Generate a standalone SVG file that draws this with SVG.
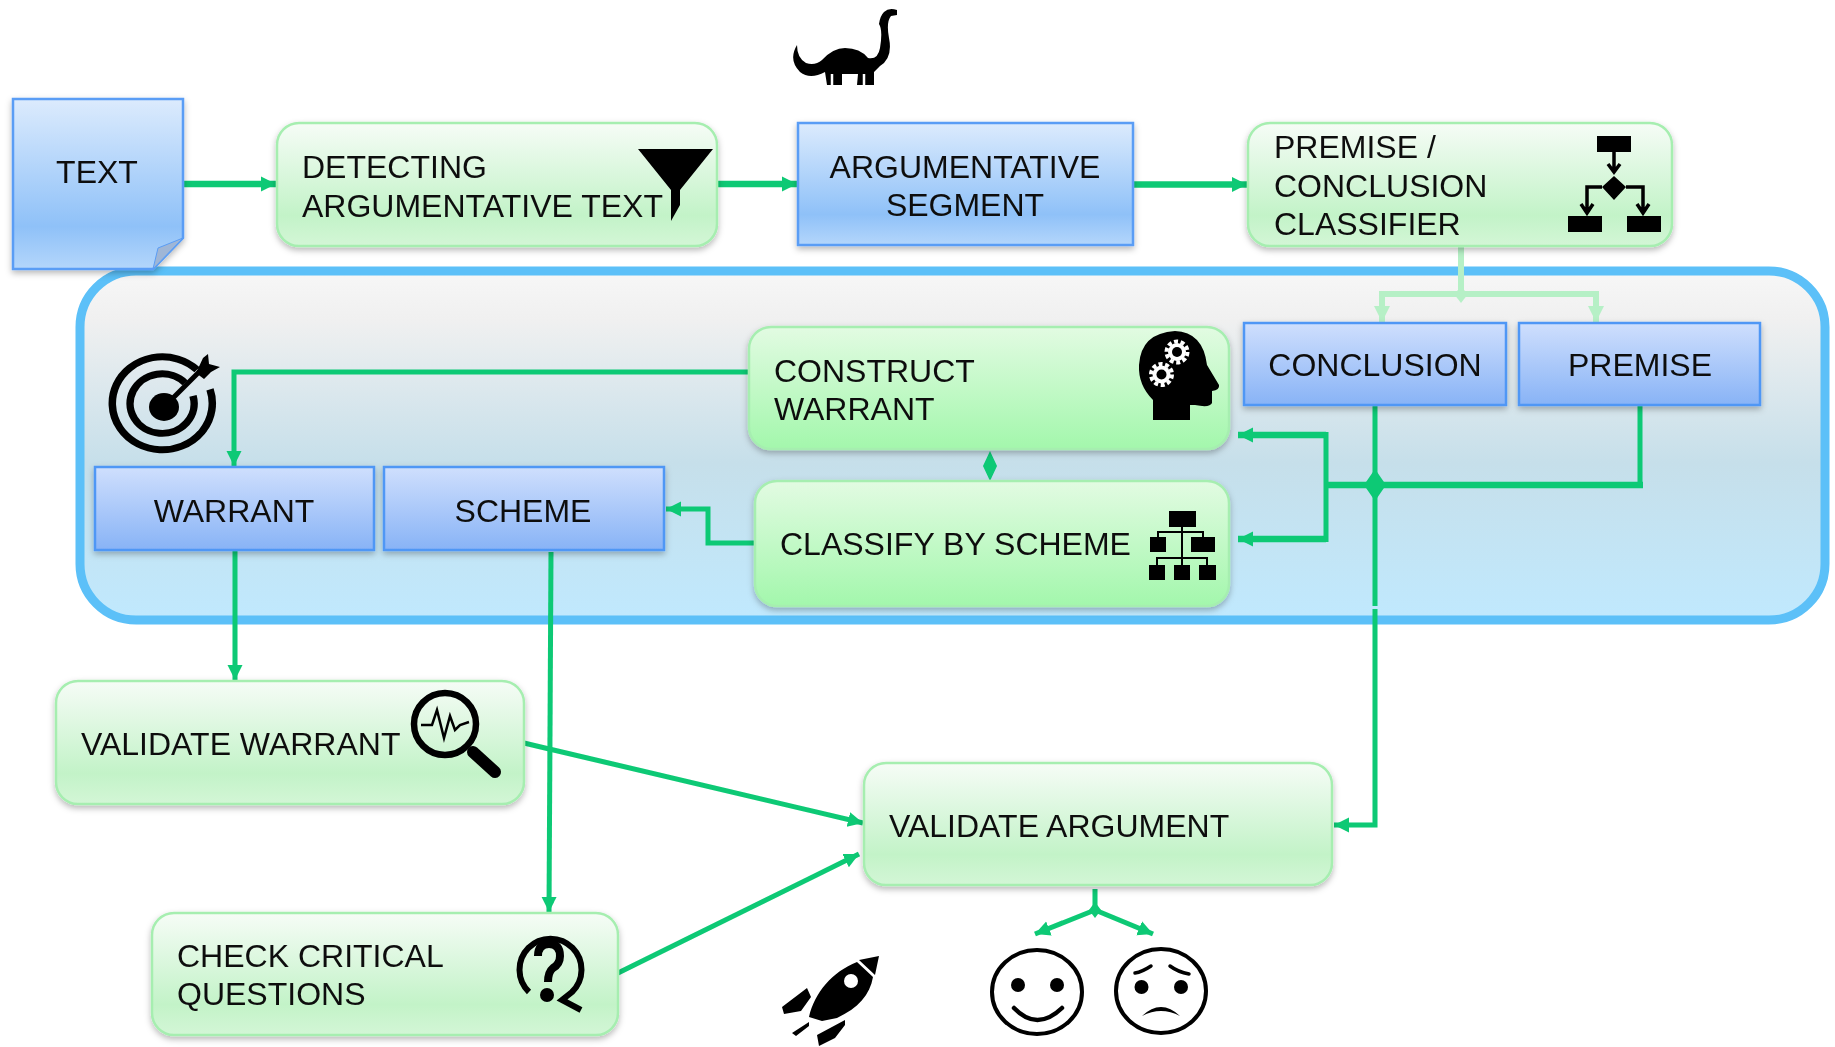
<svg xmlns="http://www.w3.org/2000/svg" width="1835" height="1047" viewBox="0 0 1835 1047">
<style>
text{font-family:"Liberation Sans",Arial,sans-serif;font-size:32px;fill:#111}
.mid{text-anchor:middle}
.g1{fill:url(#green1);stroke:#a6eeb0;stroke-width:2.5;filter:url(#sh)}
.g2{fill:url(#green2);stroke:#a6eeb0;stroke-width:2.5;filter:url(#sh)}
.b1{fill:url(#blue1);stroke:#5a9df5;stroke-width:2.5;filter:url(#sh)}
.b2{fill:url(#blue2);stroke:#4f97f5;stroke-width:2.5;filter:url(#sh)}
.c{fill:none;stroke:#0bc974;stroke-width:5}
.t{stroke-width:6.5}
.p{fill:none;stroke:#b6f0c6;stroke-width:6}
.k{fill:#000;stroke:none}
.o{fill:none;stroke:#000}
</style>
<defs>
<linearGradient id="green1" x1="0" y1="0" x2="0" y2="1"><stop offset="0" stop-color="#f6fcf6"/><stop offset=".75" stop-color="#c3f3c8"/><stop offset="1" stop-color="#d3f6d6"/></linearGradient>
<linearGradient id="green2" x1="0" y1="0" x2="0" y2="1"><stop offset="0" stop-color="#e2fbe2"/><stop offset="1" stop-color="#a3f7ac"/></linearGradient>
<linearGradient id="blue1" x1="0" y1="0" x2="0" y2="1"><stop offset="0" stop-color="#dcebfd"/><stop offset=".75" stop-color="#8fc1f8"/><stop offset="1" stop-color="#b4d6fb"/></linearGradient>
<linearGradient id="blue2" x1="0" y1="0" x2="0" y2="1"><stop offset="0" stop-color="#cfdffd"/><stop offset="1" stop-color="#88b3f6"/></linearGradient>
<linearGradient id="cont" x1="0" y1="0" x2="0" y2="1"><stop offset="0" stop-color="#f7f7f7"/><stop offset=".14" stop-color="#f0f0f0"/><stop offset=".55" stop-color="#c6dfea"/><stop offset="1" stop-color="#c0e9fe"/></linearGradient>
<filter id="sh" x="-5%" y="-10%" width="110%" height="125%"><feDropShadow dx="0" dy="3" stdDeviation="3" flood-color="#000" flood-opacity=".28"/></filter>
<filter id="soft" filterUnits="userSpaceOnUse" x="0" y="0" width="1835" height="1047"><feGaussianBlur stdDeviation=".6"/></filter>
<marker id="a" viewBox="0 0 10 10" refX="10" refY="5" markerWidth="15" markerHeight="19" markerUnits="userSpaceOnUse" orient="auto"><path d="M0 0L10 5L0 10Z" fill="#0bc974"/></marker>
<marker id="ap" viewBox="0 0 10 10" refX="10" refY="5" markerWidth="22" markerHeight="16" markerUnits="userSpaceOnUse" orient="auto"><path d="M0 0L10 5L0 10Z" fill="#b6f0c6"/></marker>
</defs>
<g filter="url(#soft)">
<rect id="container" x="80" y="271" width="1745" height="349" rx="56" fill="url(#cont)" stroke="#5bc0f8" stroke-width="9"/>

<g id="connectors">
<path class="c t" d="M183 184H276" marker-end="url(#a)"/>
<path class="c t" d="M717 184H797" marker-end="url(#a)"/>
<path class="c t" d="M1133 184.500H1247" marker-end="url(#a)"/>
<path class="p" d="M1461 246V294M1461 294H1382V322" marker-end="url(#ap)"/>
<path class="p" d="M1461 294H1596V322" marker-end="url(#ap)"/>
<path d="M1461 287L1468 294L1461 303L1454 294Z" fill="#b6f0c6"/>
<path class="c" d="M1375 405V606M1375 609V825H1334" marker-end="url(#a)"/>
<path class="c" d="M1640 405V485"/>
<path class="c t" d="M1643 485H1326"/>
<path class="c t" d="M1326 435H1238" marker-end="url(#a)"/>
<path class="c" d="M1326 432V542"/>
<path class="c t" d="M1326 539H1238" marker-end="url(#a)"/>
<path d="M1375 469L1386 485L1375 501L1364 485Z" fill="#0bc974"/>
<path d="M990 451L997 466L990 481L983 466Z" fill="#0bc974"/>
<path class="c" d="M749 372H234V466" marker-end="url(#a)"/>
<path class="c" d="M755 543H708V509H666" marker-end="url(#a)"/>
<path class="c" d="M235 550V680" marker-end="url(#a)"/>
<path class="c" d="M551 552L549 912" marker-end="url(#a)"/>
<path class="c" d="M524 743L863 823" marker-end="url(#a)"/>
<path class="c" d="M618 973L859 854" marker-end="url(#a)"/>
<path class="c" d="M1095 889V910M1095 910L1035 934" marker-end="url(#a)"/>
<path class="c" d="M1095 910L1153 934" marker-end="url(#a)"/>
<path d="M1095 902L1101 910L1095 918L1089 910Z" fill="#0bc974"/>
</g>

<g id="text-node">
<path class="b1" d="M13 99H183V238L153 269H13Z"/>
<path d="M183 238L158 248L153 269Z" fill="#9fb6d6" stroke="#5a9df5"/>
<text class="mid" x="97" y="183">TEXT</text>
</g>

<g id="detecting">
<rect class="g1" x="277" y="123" width="440" height="123" rx="22"/>
<text x="302" y="178">DETECTING</text>
<text x="302" y="217">ARGUMENTATIVE TEXT</text>
<path class="k" d="M638 149H713L680 190V205L671 221V190Z"/>
</g>

<g id="segment">
<rect class="b1" x="798" y="123" width="335" height="122"/>
<text class="mid" x="965" y="178">ARGUMENTATIVE</text>
<text class="mid" x="965" y="216">SEGMENT</text>
</g>

<g id="classifier">
<rect class="g1" x="1248" y="123" width="424" height="123" rx="22"/>
<text x="1274" y="158">PREMISE /</text>
<text x="1274" y="197">CONCLUSION</text>
<text x="1274" y="235">CLASSIFIER</text>
<path class="k" d="M1597 136H1631V152H1597ZM1568 216H1602V232H1568ZM1627 216H1661V232H1627ZM1614 176L1626 187L1614 200L1602 187Z"/>
<path class="o" stroke-width="3.500" d="M1614 152V170M1608 164L1614 172L1620 164M1602 187H1587V210M1581 204L1587 213L1593 204M1626 187H1643V210M1637 204L1643 213L1649 204"/>
</g>

<g id="conclusion">
<rect class="b2" x="1244" y="323" width="262" height="82"/>
<text class="mid" x="1375" y="376">CONCLUSION</text>
</g>

<g id="premise">
<rect class="b2" x="1519" y="323" width="241" height="82"/>
<text class="mid" x="1640" y="376">PREMISE</text>
</g>

<g id="construct">
<rect class="g2" x="749" y="327" width="480" height="122" rx="22"/>
<text x="774" y="382">CONSTRUCT</text>
<text x="774" y="420">WARRANT</text>
<path class="k" d="M1153 420V400Q1138 385 1139 365Q1141 333 1175 331Q1203 332 1207 365L1219 385Q1220 390 1212 391V403Q1210 408 1195 405H1190V420Z"/>
<g fill="#fff"><circle cx="1177" cy="352" r="9"/><circle cx="1177" cy="352" r="10.500" fill="none" stroke="#fff" stroke-width="4" stroke-dasharray="4 2.600"/><circle cx="1161.500" cy="374.500" r="9"/><circle cx="1161.500" cy="374.500" r="10.500" fill="none" stroke="#fff" stroke-width="4" stroke-dasharray="4 2.600"/></g>
<circle class="k" cx="1177" cy="352" r="5"/><circle class="k" cx="1161.500" cy="374.500" r="5"/>
</g>

<g id="classify">
<rect class="g2" x="755" y="481" width="474" height="125" rx="22"/>
<text x="780" y="555">CLASSIFY BY SCHEME</text>
<path class="k" d="M1169 511H1196V527H1169ZM1150 537H1166V552H1150ZM1191 537H1215V552H1191ZM1149 565H1165V580H1149ZM1174 565H1190V580H1174ZM1199 565H1216V580H1199Z"/>
<path class="o" stroke-width="2" d="M1182 527V533M1158 537V532H1203V537M1182 533V558M1157 565V558H1207V565M1182 558V565"/>
</g>

<g id="warrant">
<rect class="b2" x="95" y="467" width="279" height="83"/>
<text class="mid" x="234" y="522">WARRANT</text>
</g>

<g id="scheme">
<rect class="b2" x="384" y="467" width="280" height="83"/>
<text class="mid" x="523" y="522">SCHEME</text>
</g>

<g id="target-icon">
<g transform="translate(164 407) scale(1 .93) translate(-164 -407)">
<path class="o" stroke-width="7.500" d="M197 367A50 50 0 1 0 210 388"/>
<path class="o" stroke-width="7.500" d="M185 381A32 32 0 1 0 193 395"/>
<circle class="k" cx="164" cy="407" r="15"/>
</g>
<path class="o" stroke-width="5" d="M164 407L204 367"/>
<path class="k" d="M196 373L203 358L208 354L209 364L220 367L211 372L204 379Z"/>
</g>

<g id="validate-warrant">
<rect class="g1" x="56" y="681" width="468" height="123" rx="22"/>
<text x="81" y="755">VALIDATE WARRANT</text>
<circle class="o" cx="445" cy="724" r="31" stroke-width="6.500"/>
<path class="o" stroke-width="12" stroke-linecap="round" d="M473 752L495 772"/>
<path class="o" stroke-width="2.500" d="M421 725H432L437 710L444 738L450 716L455 730L460 725L469 722"/>
</g>

<g id="check">
<rect class="g1" x="152" y="913" width="466" height="122" rx="22"/>
<text x="177" y="967">CHECK CRITICAL</text>
<text x="177" y="1005">QUESTIONS</text>
<path class="o" stroke-width="6" d="M529 992A31 31 0 1 1 572 992L562 1000L581 1010"/>
<path class="o" stroke-width="8" d="M538 956Q538 944 549 944Q560 944 560 956Q560 964 553 968Q548 972 548 982"/>
<circle class="k" cx="547" cy="995" r="7"/>
</g>

<g id="validate-argument">
<rect class="g1" x="864" y="763" width="468" height="122" rx="22"/>
<text x="889" y="837">VALIDATE ARGUMENT</text>
</g>

<g id="dino-icon"><path class="k" d="M884 12Q889 7 897 10V15L891 16Q886 22 889 38Q893 58 880 66L874 72V85H857L858 74H842V85H827L825 72Q810 80 800 72Q788 60 797 45Q797 58 806 63Q815 66 822 60Q833 48 845 48Q860 48 868 58Q878 60 880 48Q883 30 879 24Q880 16 884 12Z"/><path d="M832 74V85M864 74V85" stroke="#fff" stroke-width="2.500"/></g>

<g id="rocket-icon">
<path class="k" d="M857 962C832 972 815 992 809 1017L822 1021L837 1018C858 1008 870 995 873 977ZM859 960L879 956L875 975ZM807 988L782 1007L784 1014L801 1011L811 997ZM845 1020L817 1035L819 1046L835 1038L845 1025ZM809 1022L792 1033L796 1036L809 1026Z"/>
<circle cx="851" cy="981" r="7" fill="#fff"/>
</g>

<g id="smile-icon">
<ellipse class="o" cx="1037" cy="992" rx="45" ry="42" stroke-width="4"/>
<circle class="k" cx="1018" cy="985" r="7"/><circle class="k" cx="1057" cy="985" r="7"/>
<path class="o" stroke-width="4.500" stroke-linecap="round" d="M1014 1008Q1037 1032 1062 1008"/>
</g>

<g id="sad-icon">
<ellipse class="o" cx="1161" cy="991" rx="45" ry="42" stroke-width="4"/>
<circle class="k" cx="1141.500" cy="987" r="7"/><circle class="k" cx="1181" cy="987" r="7"/>
<path class="o" stroke-width="3.500" stroke-linecap="round" d="M1135 973Q1142 972 1151 966M1170 966Q1178 972 1189 974"/>
<path class="k" d="M1142 1016Q1161 998 1180 1016Q1161 1006 1142 1016Z"/>
</g>
</g>
</svg>
